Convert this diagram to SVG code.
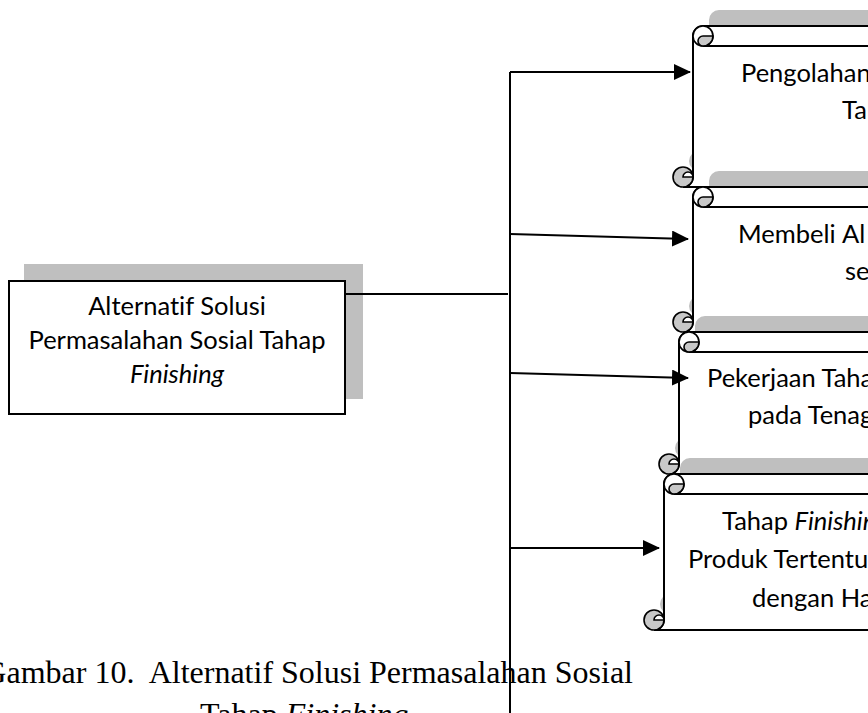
<svg xmlns="http://www.w3.org/2000/svg" width="868" height="713" viewBox="0 0 868 713">
<defs>
<style>
.sh{fill:#bfbfbf;stroke:none}
.bd{fill:#ffffff;stroke:#000;stroke-width:2}
.ln{fill:none;stroke:#000;stroke-width:2}
.cl{fill:#c8c8c8;stroke:#000;stroke-width:1.6}
.cw{fill:#ffffff;stroke:#000;stroke-width:1.6}
.t{font-family:Lato,"Open Sans",sans-serif;font-size:25.5px;fill:#000;font-variant-ligatures:none}
.cap{font-family:"Liberation Serif","Times New Roman",serif;font-size:32px;fill:#000;white-space:pre}
.con{fill:none;stroke:#000;stroke-width:2}
</style>
<marker id="ah" viewBox="0 0 17 16" refX="16" refY="8" markerWidth="17" markerHeight="16" markerUnits="userSpaceOnUse" orient="auto">
<path d="M0,0 L17,8 L0,16 Z" fill="#000"/>
</marker>
</defs>
<rect width="868" height="713" fill="#fff"/>

<g id="caption">
<text class="cap" x="633" y="683" text-anchor="end">Gambar 10.  Alternatif Solusi Permasalahan Sosial</text>
<text class="cap" x="200" y="725">Tahap <tspan font-style="italic">Finishing</tspan></text>
</g>

<g id="main">
<rect class="sh" x="24" y="264" width="339" height="135"/>
<rect class="bd" x="9" y="281" width="336" height="133"/>
<text class="t" x="177" y="315" text-anchor="middle">Alternatif Solusi</text>
<text class="t" x="177" y="349" text-anchor="middle">Permasalahan Sosial Tahap</text>
<text class="t" x="177" y="383" text-anchor="middle" font-style="italic">Finishing</text>
</g>

<g id="scroll1">
<path class="sh" d="M709,20 A10,10 0 0 1 719,10 H900 V171 H699 A10,10 0 0 0 709,161 Z"/>
<circle class="sh" cx="699" cy="161" r="10"/>
<path class="bd" d="M693,36 A10,10 0 0 1 703,26 H900 V187 H683 A10,10 0 0 0 693,177 Z"/>
<path class="ln" d="M703,46 H900"/>
<circle class="cw" cx="703" cy="36" r="10"/>
<path class="cl" d="M703,36 H713 A10,10 0 0 1 703,46 A5,5 0 0 1 703,36 Z"/>
<circle class="cl" cx="683" cy="177" r="10"/>
<path class="cw" d="M683,177 A5,5 0 0 1 693,177 Z"/>
<text class="t" x="741" y="82">Pengolahan</text>
<text class="t" x="842" y="119">Tah</text>
</g>

<g id="scroll2">
<path class="sh" d="M709,181 A10,10 0 0 1 719,171 H900 V316 H699 A10,10 0 0 0 709,306 Z"/>
<circle class="sh" cx="699" cy="306" r="10"/>
<path class="bd" d="M693,197 A10,10 0 0 1 703,187 H900 V332 H683 A10,10 0 0 0 693,322 Z"/>
<path class="ln" d="M703,207 H900"/>
<circle class="cw" cx="703" cy="197" r="10"/>
<path class="cl" d="M703,197 H713 A10,10 0 0 1 703,207 A5,5 0 0 1 703,197 Z"/>
<circle class="cl" cx="683" cy="322" r="10"/>
<path class="cw" d="M683,322 A5,5 0 0 1 693,322 Z"/>
<text class="t" x="738" y="243">Membeli</text>
<text class="t" x="842" y="243">Al</text>
<text class="t" x="845" y="280">se</text>
</g>

<g id="scroll3">
<path class="sh" d="M695,326 A10,10 0 0 1 705,316 H900 V458 H685 A10,10 0 0 0 695,448 Z"/>
<circle class="sh" cx="685" cy="448" r="10"/>
<path class="bd" d="M679,342 A10,10 0 0 1 689,332 H900 V474 H669 A10,10 0 0 0 679,464 Z"/>
<path class="ln" d="M689,352 H900"/>
<circle class="cw" cx="689" cy="342" r="10"/>
<path class="cl" d="M689,342 H699 A10,10 0 0 1 689,352 A5,5 0 0 1 689,342 Z"/>
<circle class="cl" cx="669" cy="464" r="10"/>
<path class="cw" d="M669,464 A5,5 0 0 1 679,464 Z"/>
<text class="t" x="707" y="387">Pekerjaan Taha</text>
<text class="t" x="748" y="424">pada Tenag</text>
</g>

<g id="scroll4">
<path class="sh" d="M680,468 A10,10 0 0 1 690,458 H900 V614 H670 A10,10 0 0 0 680,604 Z"/>
<circle class="sh" cx="670" cy="604" r="10"/>
<path class="bd" d="M664,484 A10,10 0 0 1 674,474 H900 V630 H654 A10,10 0 0 0 664,620 Z"/>
<path class="ln" d="M674,494 H900"/>
<circle class="cw" cx="674" cy="484" r="10"/>
<path class="cl" d="M674,484 H684 A10,10 0 0 1 674,494 A5,5 0 0 1 674,484 Z"/>
<circle class="cl" cx="654" cy="620" r="10"/>
<path class="cw" d="M654,620 A5,5 0 0 1 664,620 Z"/>
<text class="t" x="722" y="530">Tahap <tspan font-style="italic">Finishin</tspan></text>
<text class="t" x="688" y="568">Produk Tertentu</text>
<text class="t" x="752" y="607">dengan Ha</text>
</g>

<g id="connectors">
<path class="con" d="M345,294 H508"/>
<path class="con" d="M510,713 V72"/>
<path class="con" d="M510,72 H690" marker-end="url(#ah)"/>
<path class="con" d="M510,234 L688,239" marker-end="url(#ah)"/>
<path class="con" d="M510,373 L688,378" marker-end="url(#ah)"/>
<path class="con" d="M510,548 L659,548" marker-end="url(#ah)"/>
</g>
</svg>
